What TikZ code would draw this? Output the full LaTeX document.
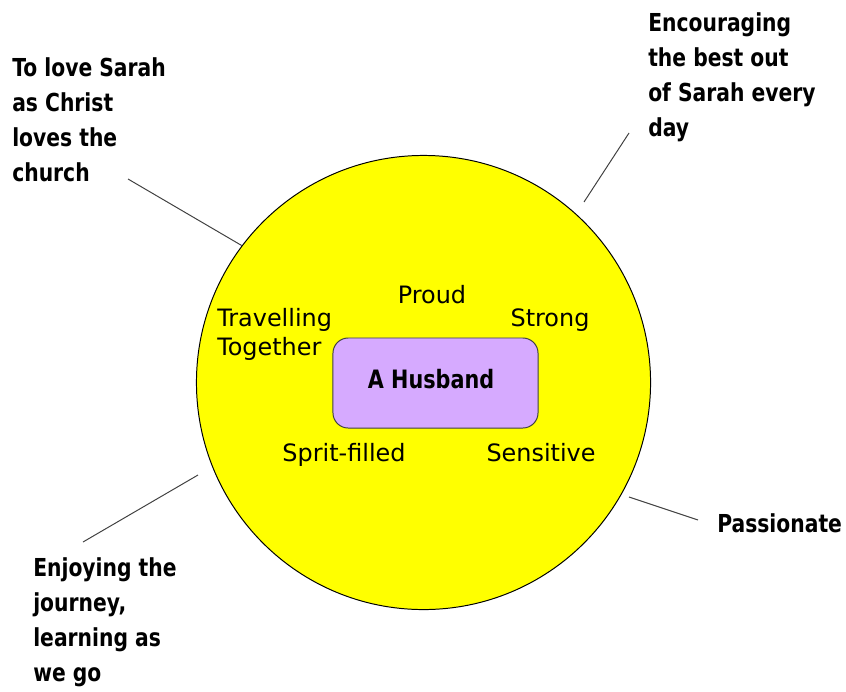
\documentclass[tikz,border=0pt]{standalone}
\usepackage{fontspec}
\setmainfont{DejaVu Sans}
\newfontfamily\tagfont{DejaVu Sans}[FakeStretch=0.82]
\usetikzlibrary{positioning}

\definecolor{hubfill}{RGB}{255,255,0}
\definecolor{husbandfill}{RGB}{214,170,255}
\definecolor{linkgray}{RGB}{64,64,64}

\tikzset{
	trait/.style={font=\fontsize{17}{20.6}\selectfont, inner sep=0pt, align=left},
	tag/.style={font=\tagfont\bfseries\fontsize{17.6}{24.9}\selectfont, inner sep=0pt, align=left},
	link/.style={draw=linkgray, line width=0.7pt}
}

\begin{document}
\begin{tikzpicture}[x=0.025cm, y=-0.025cm]
	\useasboundingbox (0,0) rectangle (846,691);

	% the big circle
	\node (hub) [circle, draw=black, line width=0.7pt, fill=hubfill, minimum size=11.35cm] at (423.5,382.5) {};

	% outer notes
	\node (love) [tag, anchor=north west] at (12,57) {To love Sarah\\as Christ\\loves the\\church};
	\node (best) [tag, anchor=north west] at (648,12) {Encouraging\\the best out\\of Sarah every\\day};
	\node (journey) [tag, anchor=north west] at (33,557) {Enjoying the\\journey,\\learning as\\we go};
	\node (passion) [tag, anchor=base west] at (717,532) {Passionate};

	\coordinate (loveTip) at (128,179);
	\coordinate (loveFoot) at (hub.143);
	\coordinate (bestTip) at (629,133);
	\coordinate (bestFoot) at (584,202);
	\coordinate (journeyTip) at (83,542);
	\coordinate (journeyFoot) at (198,475);
	\coordinate (passionTip) at (698,520);
	\coordinate (passionFoot) at (629,497);

	\draw[link] (loveTip) -- (loveFoot);
	\draw[link] (bestTip) -- (bestFoot);
	\draw[link] (journeyTip) -- (journeyFoot);
	\draw[link] (passionTip) -- (passionFoot);

	% centre box and the words round it
	\node (husband) [rectangle, draw=black!75, line width=0.7pt, rounded corners=0.38cm, fill=husbandfill, minimum width=5.125cm, minimum height=2.25cm] at (435.5,383) {};
	\node (husbandText) [tag, font=\tagfont\bfseries\fontsize{18}{22}\selectfont, anchor=base] at (431,388) {A Husband};

	\node (proud) [trait, anchor=base] at (432,303) {Proud};
	\node (strong) [trait, anchor=base] at (550,326) {Strong};
	\node (travel) [trait, anchor=north west] at (217,308) {Travelling\\Together};
	\node (spirit) [trait, anchor=base] at (344,461) {Sprit-filled};
	\node (sensitive) [trait, anchor=base] at (541,461) {Sensitive};
\end{tikzpicture}
\end{document}
